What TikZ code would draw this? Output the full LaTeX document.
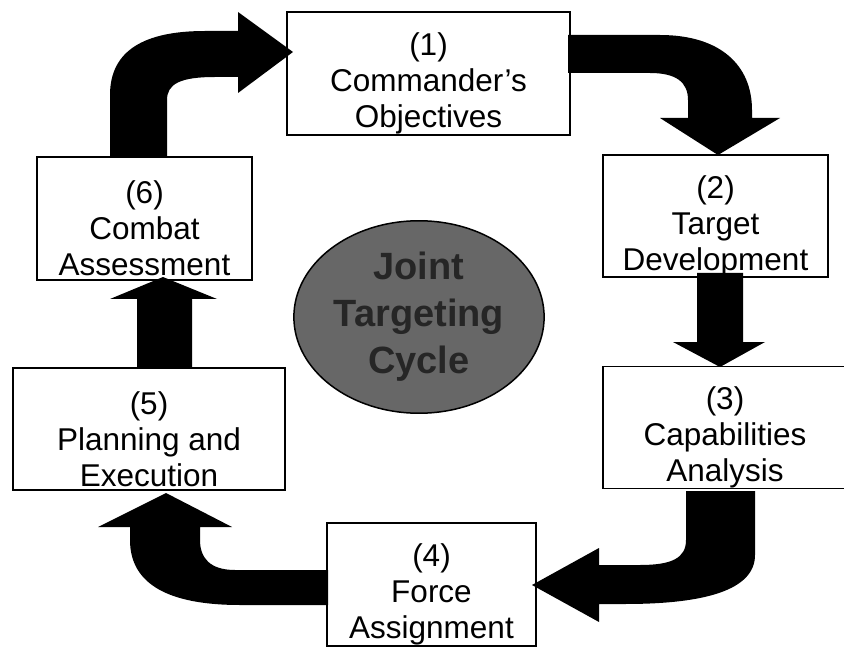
\documentclass[tikz,border=0pt]{standalone}
\usepackage{fontspec}
\setmainfont{Liberation Sans}
\usetikzlibrary{shapes.geometric}

\definecolor{hubgray}{HTML}{676767}
\definecolor{hubtext}{HTML}{262626}

% pushes the three lines of a box a little down
\newcommand{\toppad}{\rule{0pt}{43pt}}

\tikzset{
    phase/.style={draw, line width=1.2pt, fill=white, align=center, inner sep=0pt,
        font=\fontsize{31.5}{36}\selectfont},
    bigarrow/.style={fill=black},
}

\begin{document}
\begin{tikzpicture}[x=1pt, y=-1pt]
        \fill[white] (0,0) rectangle (844,647);
        \useasboundingbox (0,0) rectangle (844,647);

        \node at (419,317) [ellipse, draw, line width=1.5pt, fill=hubgray, text=hubtext,
            minimum width=246pt, minimum height=192pt, align=center,
            font=\bfseries\fontsize{38}{47}\selectfont] (hub) {Joint\\Targeting\\Cycle};

        \node at (428.5,73.5) [phase, minimum width=283pt, minimum height=123pt] (obj) {\toppad(1)\\Commander’s\\Objectives};
        \node at (715.5,216) [phase, minimum width=225pt, minimum height=122pt] (tgtdev) {\toppad(2)\\Target\\Development};
        \node at (725,427.5) [phase, minimum width=244pt, minimum height=121pt] (capan) {\toppad(3)\\Capabilities\\Analysis};
        \node at (431.5,584.5) [phase, minimum width=209pt, minimum height=123pt] (force) {\toppad(4)\\Force\\Assignment};
        \node at (149,429) [phase, minimum width=272pt, minimum height=122pt] (plan) {\toppad(5)\\Planning and\\Execution};
        \node at (144.5,218.5) [phase, minimum width=215pt, minimum height=123pt] (assess) {\toppad(6)\\Combat\\Assessment};

        % (6) -> (1)
        \fill[bigarrow] (110,157) -- (110,95) .. controls (110,50) and (145,31) .. (205,31)
            -- (238,31) -- (238,12) -- (293,52) -- (238,93) -- (238,77) -- (215,77)
            .. controls (180,77) and (167,84) .. (167,100) -- (167,157) -- cycle;
        % (1) -> (2)
        \fill[bigarrow] (568,35) -- (660,35) .. controls (720,35) and (752,65) .. (752,110)
            -- (752,118) -- (780,118) -- (718,155) -- (660,118) -- (688,118) -- (688,100)
            .. controls (688,82) and (676,73) .. (650,73) -- (568,73) -- cycle;
        % (2) -> (3)
        \fill[bigarrow] (697,273) -- (743,273) -- (743,342) -- (765,342) -- (720,367)
            -- (673,342) -- (697,342) -- cycle;
        % (3) -> (4)
        \fill[bigarrow] (686,491) -- (755,491) -- (755,555) .. controls (755,590) and (705,604) .. (625,604)
            -- (599,604) -- (599,622) -- (532,585) -- (599,548) -- (599,565) -- (640,565)
            .. controls (672,565) and (686,558) .. (686,540) -- cycle;
        % (4) -> (5)
        \fill[bigarrow] (328,570) -- (235,570) .. controls (210,570) and (200,558) .. (200,540)
            -- (200,527) -- (232,527) -- (166,493) -- (98,527) -- (130,527) -- (130,540)
            .. controls (130,585) and (170,605) .. (240,605) -- (328,605) -- cycle;
        % (5) -> (6)
        \fill[bigarrow] (137,367) -- (192,367) -- (192,299) -- (217,299) -- (163,277)
            -- (110,299) -- (137,299) -- cycle;
\end{tikzpicture}
\end{document}
